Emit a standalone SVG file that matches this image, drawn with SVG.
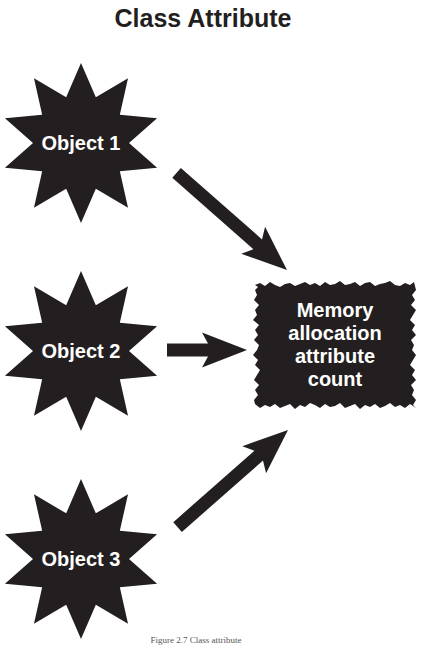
<svg xmlns="http://www.w3.org/2000/svg" xmlns:xlink="http://www.w3.org/1999/xlink" width="427" height="646" viewBox="0 0 427 646">
<style>
.title{font-family:"Liberation Sans",Arial,sans-serif;font-weight:bold;font-size:25px;fill:#231f20;text-anchor:middle}
.lbl{font-family:"Liberation Sans",Arial,sans-serif;font-weight:bold;font-size:20px;fill:#ffffff;text-anchor:middle}
.shape{fill:#231f20}
.cap{font-family:"Liberation Serif","Times New Roman",serif;font-size:9px;fill:#555;text-anchor:middle}
</style>
<defs>
<polygon id="star" class="shape" points="0,-80 14.83,-45.65 47.02,-64.72 38.83,-28.21 76.08,-24.72 48,0 76.08,24.72 38.83,28.21 47.02,64.72 14.83,45.65 0,80 -14.83,45.65 -47.02,64.72 -38.83,28.21 -76.08,24.72 -48,0 -76.08,-24.72 -38.83,-28.21 -47.02,-64.72 -14.83,-45.65"/>
</defs>
<rect width="427" height="646" fill="#ffffff"/>
<text class="title" x="203" y="27">Class Attribute</text>
<g id="object1">
<use xlink:href="#star" href="#star" transform="translate(81,143)"/>
<text class="lbl" x="81" y="150">Object 1</text>
</g>
<g id="object2">
<use xlink:href="#star" href="#star" transform="translate(81,351)"/>
<text class="lbl" x="81" y="358">Object 2</text>
</g>
<g id="object3">
<use xlink:href="#star" href="#star" transform="translate(81,559)"/>
<text class="lbl" x="81" y="566">Object 3</text>
</g>
<g id="memory">
<polygon class="shape" points="255,285 260,283 265,286 270,282 275,285 280,287 285,284 290,283 295,286 300,284 305,282 310,285 315,283 320,286 325,282 330,285 335,284 340,281 345,285 350,284 355,282 360,286 365,283 370,282 375,286 380,284 385,283 390,281 395,285 400,286 405,283 410,285 414,282 416,290 412,295 415,300 411,305 416,310 413,315 410,320 415,325 412,330 416,335 411,340 414,345 412,350 416,355 413,360 410,365 415,370 412,375 416,380 411,385 414,390 412,395 416,400 413,405 416,408 410,404 405,408 400,405 395,407 390,403 385,406 380,408 375,404 370,407 365,405 360,409 355,404 350,406 345,408 340,403 335,406 330,407 325,404 320,408 315,405 310,403 305,407 300,405 295,409 290,404 285,406 280,408 275,404 270,407 265,405 260,408 255,404 254,400 258,395 255,390 259,385 254,380 257,375 260,370 255,365 258,360 253,355 257,350 259,345 254,340 258,335 255,330 259,325 253,320 257,315 255,310 259,305 254,300 257,295 255,290 258,287"/>
<text class="lbl" x="335" y="317">Memory</text>
<text class="lbl" x="335" y="340">allocation</text>
<text class="lbl" x="335" y="363">attribute</text>
<text class="lbl" x="335" y="386">count</text>
</g>
<g id="connectors" class="shape">
<polygon transform="translate(287,270) rotate(41.3)" points="-147,-6.5 -39,-6.5 -45,-18 0,0 -45,18 -39,6.5 -147,6.5"/>
<polygon transform="translate(247,350)" points="-80,-6.5 -39,-6.5 -45,-17.5 0,0 -45,17.5 -39,6.5 -80,6.5"/>
<polygon transform="translate(288,430) rotate(-41.3)" points="-147,-6.5 -39,-6.5 -45,-18 0,0 -45,18 -39,6.5 -147,6.5"/>
</g>
<text class="cap" x="196" y="643">Figure 2.7 Class attribute</text>
</svg>
